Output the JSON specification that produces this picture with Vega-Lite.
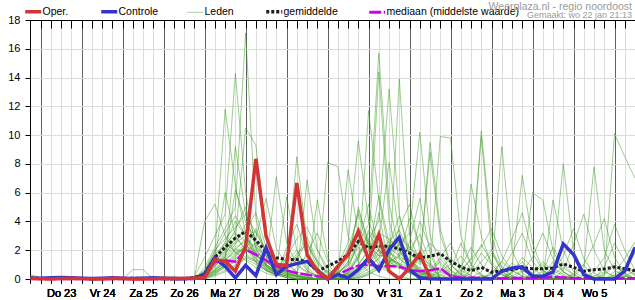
{
"$schema": "https://vega.github.io/schema/vega-lite/v6.json",
"width": 605, "height": 259,
"autosize": {"type": "none"},
"padding": {"left": 30, "top": 20, "right": 0, "bottom": 21},
"background": "white",
"config": {"view": {"stroke": null}, "font": "Liberation Sans"},
"title": {"text": "Weerplaza.nl - regio noordoost", "subtitle": "Gemaakt: wo 22 jan 21:13", "anchor": "end", "orient": "top", "frame": "group", "font": "Liberation Sans", "fontSize": 10.5, "fontWeight": "normal", "color": "#9a9a9a", "subtitleFont": "Liberation Sans", "subtitleFontSize": 9, "subtitleColor": "#9a9a9a", "subtitlePadding": -1, "offset": -14, "dx": -3},
"data": {"values": [
{"k":"e1","t":-6,"v":0.3},{"k":"e1","t":0,"v":0.1},{"k":"e1","t":6,"v":0},{"k":"e1","t":12,"v":0.15},{"k":"e1","t":18,"v":0.1},{"k":"e1","t":24,"v":0},{"k":"e1","t":30,"v":0},{"k":"e1","t":36,"v":0.05},{"k":"e1","t":42,"v":0},{"k":"e1","t":48,"v":0},{"k":"e1","t":54,"v":0},{"k":"e1","t":60,"v":0},{"k":"e1","t":66,"v":0.05},{"k":"e1","t":72,"v":0},{"k":"e1","t":78,"v":0},
{"k":"e2","t":-6,"v":0.2},{"k":"e2","t":0,"v":0},{"k":"e2","t":6,"v":0},{"k":"e2","t":12,"v":0},{"k":"e2","t":18,"v":0},{"k":"e2","t":24,"v":0},{"k":"e2","t":30,"v":0},{"k":"e2","t":36,"v":0},{"k":"e2","t":42,"v":0},{"k":"e2","t":48,"v":0},{"k":"e2","t":54,"v":0.65},{"k":"e2","t":60,"v":0.65},{"k":"e2","t":66,"v":0},{"k":"e2","t":72,"v":0},{"k":"e2","t":78,"v":0},
{"k":"e3","t":66,"v":0},{"k":"e3","t":72,"v":0},{"k":"e3","t":78,"v":0.2},
{"k":"e1","t":84,"v":0},{"k":"e1","t":90,"v":0.2},{"k":"e1","t":96,"v":1.5},{"k":"e1","t":102,"v":3.0},{"k":"e1","t":108,"v":4.5},{"k":"e1","t":114,"v":14.3},{"k":"e1","t":120,"v":6.0},{"k":"e1","t":126,"v":2.1},{"k":"e1","t":132,"v":1.0},{"k":"e1","t":138,"v":0.5},{"k":"e1","t":144,"v":0.8},{"k":"e1","t":150,"v":1.5},{"k":"e1","t":156,"v":0.6},{"k":"e1","t":162,"v":0.2},{"k":"e1","t":168,"v":0},{"k":"e1","t":174,"v":0.3},{"k":"e1","t":180,"v":1.2},{"k":"e1","t":186,"v":2.5},{"k":"e1","t":192,"v":3.8},{"k":"e1","t":198,"v":15.7},{"k":"e1","t":204,"v":5.2},{"k":"e1","t":210,"v":2.0},{"k":"e1","t":216,"v":0.8},{"k":"e1","t":222,"v":0.3},{"k":"e1","t":228,"v":0.5},{"k":"e1","t":234,"v":1.2},{"k":"e1","t":240,"v":0.4},{"k":"e1","t":246,"v":0},{"k":"e1","t":252,"v":0},{"k":"e1","t":258,"v":0.2},{"k":"e1","t":264,"v":0},{"k":"e1","t":270,"v":0},{"k":"e1","t":276,"v":0.5},{"k":"e1","t":282,"v":1.2},{"k":"e1","t":288,"v":0.3},{"k":"e1","t":294,"v":0},{"k":"e1","t":300,"v":0},{"k":"e1","t":306,"v":0.2},{"k":"e1","t":312,"v":0},{"k":"e1","t":318,"v":0},{"k":"e1","t":324,"v":0},{"k":"e1","t":330,"v":0.4},{"k":"e1","t":336,"v":1.1},{"k":"e1","t":342,"v":0.3},{"k":"e1","t":348,"v":0},
{"k":"e2","t":84,"v":0},{"k":"e2","t":90,"v":0},{"k":"e2","t":96,"v":0.8},{"k":"e2","t":102,"v":2.2},{"k":"e2","t":108,"v":3.5},{"k":"e2","t":114,"v":5.0},{"k":"e2","t":120,"v":17.1},{"k":"e2","t":126,"v":4.2},{"k":"e2","t":132,"v":1.5},{"k":"e2","t":138,"v":0.8},{"k":"e2","t":144,"v":0.4},{"k":"e2","t":150,"v":0.2},{"k":"e2","t":156,"v":0},{"k":"e2","t":162,"v":0},{"k":"e2","t":168,"v":0.1},{"k":"e2","t":174,"v":0.6},{"k":"e2","t":180,"v":2.0},{"k":"e2","t":186,"v":4.5},{"k":"e2","t":192,"v":2.2},{"k":"e2","t":198,"v":1.0},{"k":"e2","t":204,"v":0.6},{"k":"e2","t":210,"v":13.9},{"k":"e2","t":216,"v":3.0},{"k":"e2","t":222,"v":1.2},{"k":"e2","t":228,"v":0.6},{"k":"e2","t":234,"v":0.3},{"k":"e2","t":240,"v":0},{"k":"e2","t":246,"v":0},{"k":"e2","t":252,"v":0.1},{"k":"e2","t":258,"v":0.5},{"k":"e2","t":264,"v":1.8},{"k":"e2","t":270,"v":0.6},{"k":"e2","t":276,"v":0},{"k":"e2","t":282,"v":0},{"k":"e2","t":288,"v":0},{"k":"e2","t":294,"v":0.2},{"k":"e2","t":300,"v":0.8},{"k":"e2","t":306,"v":0.3},{"k":"e2","t":312,"v":0},{"k":"e2","t":318,"v":0},{"k":"e2","t":324,"v":0},{"k":"e2","t":330,"v":0},{"k":"e2","t":336,"v":0},{"k":"e2","t":342,"v":0.2},{"k":"e2","t":348,"v":0.6},
{"k":"e3","t":84,"v":0},{"k":"e3","t":90,"v":0},{"k":"e3","t":96,"v":0.3},{"k":"e3","t":102,"v":1.2},{"k":"e3","t":108,"v":2.0},{"k":"e3","t":114,"v":2.8},{"k":"e3","t":120,"v":10.5},{"k":"e3","t":126,"v":9.3},{"k":"e3","t":132,"v":3.0},{"k":"e3","t":138,"v":1.2},{"k":"e3","t":144,"v":0.6},{"k":"e3","t":150,"v":0.3},{"k":"e3","t":156,"v":0.1},{"k":"e3","t":162,"v":0},{"k":"e3","t":168,"v":0},{"k":"e3","t":174,"v":0},{"k":"e3","t":180,"v":0.5},{"k":"e3","t":186,"v":1.5},{"k":"e3","t":192,"v":2.8},{"k":"e3","t":198,"v":4.0},{"k":"e3","t":204,"v":13.2},{"k":"e3","t":210,"v":4.5},{"k":"e3","t":216,"v":1.5},{"k":"e3","t":222,"v":0.6},{"k":"e3","t":228,"v":0.2},{"k":"e3","t":234,"v":0},{"k":"e3","t":240,"v":0},{"k":"e3","t":246,"v":0.3},{"k":"e3","t":252,"v":1.0},{"k":"e3","t":258,"v":2.4},{"k":"e3","t":264,"v":1.2},{"k":"e3","t":270,"v":0.4},{"k":"e3","t":276,"v":0},{"k":"e3","t":282,"v":0},{"k":"e3","t":288,"v":0.3},{"k":"e3","t":294,"v":1.0},{"k":"e3","t":300,"v":0.4},{"k":"e3","t":306,"v":0},{"k":"e3","t":312,"v":0},{"k":"e3","t":318,"v":0},{"k":"e3","t":324,"v":0.2},{"k":"e3","t":330,"v":0.5},{"k":"e3","t":336,"v":0.2},{"k":"e3","t":342,"v":0},{"k":"e3","t":348,"v":0},
{"k":"e4","t":84,"v":0},{"k":"e4","t":90,"v":0.1},{"k":"e4","t":96,"v":4.0},{"k":"e4","t":102,"v":5.2},{"k":"e4","t":108,"v":3.0},{"k":"e4","t":114,"v":1.8},{"k":"e4","t":120,"v":2.5},{"k":"e4","t":126,"v":1.2},{"k":"e4","t":132,"v":0.6},{"k":"e4","t":138,"v":0.3},{"k":"e4","t":144,"v":0.1},{"k":"e4","t":150,"v":0},{"k":"e4","t":156,"v":0},{"k":"e4","t":162,"v":0},{"k":"e4","t":168,"v":0.2},{"k":"e4","t":174,"v":1.0},{"k":"e4","t":180,"v":2.5},{"k":"e4","t":186,"v":9.6},{"k":"e4","t":192,"v":4.0},{"k":"e4","t":198,"v":2.2},{"k":"e4","t":204,"v":1.5},{"k":"e4","t":210,"v":0.8},{"k":"e4","t":216,"v":0.4},{"k":"e4","t":222,"v":0.2},{"k":"e4","t":228,"v":0.6},{"k":"e4","t":234,"v":1.5},{"k":"e4","t":240,"v":2.5},{"k":"e4","t":246,"v":0.8},{"k":"e4","t":252,"v":0.2},{"k":"e4","t":258,"v":0},{"k":"e4","t":264,"v":0},{"k":"e4","t":270,"v":0},{"k":"e4","t":276,"v":0},{"k":"e4","t":282,"v":0},{"k":"e4","t":288,"v":0},{"k":"e4","t":294,"v":0},{"k":"e4","t":300,"v":0},{"k":"e4","t":306,"v":0},{"k":"e4","t":312,"v":0},{"k":"e4","t":318,"v":0},{"k":"e4","t":324,"v":0},{"k":"e4","t":330,"v":0},{"k":"e4","t":336,"v":0.3},{"k":"e4","t":342,"v":0.8},{"k":"e4","t":348,"v":0.2},
{"k":"e5","t":84,"v":0},{"k":"e5","t":90,"v":0},{"k":"e5","t":96,"v":0.5},{"k":"e5","t":102,"v":1.8},{"k":"e5","t":108,"v":11.8},{"k":"e5","t":114,"v":6.5},{"k":"e5","t":120,"v":3.2},{"k":"e5","t":126,"v":1.8},{"k":"e5","t":132,"v":0.9},{"k":"e5","t":138,"v":0.4},{"k":"e5","t":144,"v":0.2},{"k":"e5","t":150,"v":0.8},{"k":"e5","t":156,"v":1.6},{"k":"e5","t":162,"v":0.6},{"k":"e5","t":168,"v":0.2},{"k":"e5","t":174,"v":0},{"k":"e5","t":180,"v":0.2},{"k":"e5","t":186,"v":0.6},{"k":"e5","t":192,"v":1.2},{"k":"e5","t":198,"v":2.0},{"k":"e5","t":204,"v":2.6},{"k":"e5","t":210,"v":3.4},{"k":"e5","t":216,"v":1.8},{"k":"e5","t":222,"v":1.0},{"k":"e5","t":228,"v":9.5},{"k":"e5","t":234,"v":3.5},{"k":"e5","t":240,"v":1.0},{"k":"e5","t":246,"v":0.3},{"k":"e5","t":252,"v":0},{"k":"e5","t":258,"v":0},{"k":"e5","t":264,"v":0},{"k":"e5","t":270,"v":0},{"k":"e5","t":276,"v":0},{"k":"e5","t":282,"v":0},{"k":"e5","t":288,"v":0},{"k":"e5","t":294,"v":0},{"k":"e5","t":300,"v":0.3},{"k":"e5","t":306,"v":0.8},{"k":"e5","t":312,"v":0.3},{"k":"e5","t":318,"v":0},{"k":"e5","t":324,"v":0},{"k":"e5","t":330,"v":0},{"k":"e5","t":336,"v":0},{"k":"e5","t":342,"v":0},{"k":"e5","t":348,"v":0},
{"k":"e6","t":84,"v":0},{"k":"e6","t":90,"v":0},{"k":"e6","t":96,"v":0.2},{"k":"e6","t":102,"v":0.9},{"k":"e6","t":108,"v":1.6},{"k":"e6","t":114,"v":2.4},{"k":"e6","t":120,"v":3.8},{"k":"e6","t":126,"v":2.9},{"k":"e6","t":132,"v":5.6},{"k":"e6","t":138,"v":2.1},{"k":"e6","t":144,"v":1.0},{"k":"e6","t":150,"v":0.5},{"k":"e6","t":156,"v":0.2},{"k":"e6","t":162,"v":0},{"k":"e6","t":168,"v":0},{"k":"e6","t":174,"v":0},{"k":"e6","t":180,"v":0.3},{"k":"e6","t":186,"v":0.8},{"k":"e6","t":192,"v":11.7},{"k":"e6","t":198,"v":5.5},{"k":"e6","t":204,"v":2.0},{"k":"e6","t":210,"v":1.0},{"k":"e6","t":216,"v":0.5},{"k":"e6","t":222,"v":0.2},{"k":"e6","t":228,"v":0},{"k":"e6","t":234,"v":0},{"k":"e6","t":240,"v":0.2},{"k":"e6","t":246,"v":0.6},{"k":"e6","t":252,"v":1.4},{"k":"e6","t":258,"v":9.9},{"k":"e6","t":264,"v":2.0},{"k":"e6","t":270,"v":0.5},{"k":"e6","t":276,"v":0.1},{"k":"e6","t":282,"v":0},{"k":"e6","t":288,"v":0},{"k":"e6","t":294,"v":0},{"k":"e6","t":300,"v":0},{"k":"e6","t":306,"v":0},{"k":"e6","t":312,"v":0},{"k":"e6","t":318,"v":0},{"k":"e6","t":324,"v":0},{"k":"e6","t":330,"v":0},{"k":"e6","t":336,"v":0},{"k":"e6","t":342,"v":0},{"k":"e6","t":348,"v":0},
{"k":"e7","t":84,"v":0},{"k":"e7","t":90,"v":0},{"k":"e7","t":96,"v":0.1},{"k":"e7","t":102,"v":0.6},{"k":"e7","t":108,"v":1.2},{"k":"e7","t":114,"v":9.2},{"k":"e7","t":120,"v":4.5},{"k":"e7","t":126,"v":2.2},{"k":"e7","t":132,"v":1.0},{"k":"e7","t":138,"v":7.1},{"k":"e7","t":144,"v":2.5},{"k":"e7","t":150,"v":1.0},{"k":"e7","t":156,"v":0.4},{"k":"e7","t":162,"v":0.1},{"k":"e7","t":168,"v":0},{"k":"e7","t":174,"v":0},{"k":"e7","t":180,"v":0},{"k":"e7","t":186,"v":0.2},{"k":"e7","t":192,"v":0.5},{"k":"e7","t":198,"v":1.0},{"k":"e7","t":204,"v":1.8},{"k":"e7","t":210,"v":2.4},{"k":"e7","t":216,"v":3.2},{"k":"e7","t":222,"v":10.2},{"k":"e7","t":228,"v":3.0},{"k":"e7","t":234,"v":1.0},{"k":"e7","t":240,"v":0.3},{"k":"e7","t":246,"v":0},{"k":"e7","t":252,"v":0},{"k":"e7","t":258,"v":0},{"k":"e7","t":264,"v":0},{"k":"e7","t":270,"v":0.4},{"k":"e7","t":276,"v":1.1},{"k":"e7","t":282,"v":0.6},{"k":"e7","t":288,"v":0.2},{"k":"e7","t":294,"v":0.5},{"k":"e7","t":300,"v":2.2},{"k":"e7","t":306,"v":1.0},{"k":"e7","t":312,"v":0.3},{"k":"e7","t":318,"v":0},{"k":"e7","t":324,"v":0},{"k":"e7","t":330,"v":0},{"k":"e7","t":336,"v":0.1},{"k":"e7","t":342,"v":0.2},{"k":"e7","t":348,"v":0},
{"k":"e8","t":84,"v":0},{"k":"e8","t":90,"v":0},{"k":"e8","t":96,"v":0.4},{"k":"e8","t":102,"v":1.4},{"k":"e8","t":108,"v":6.0},{"k":"e8","t":114,"v":3.0},{"k":"e8","t":120,"v":2.0},{"k":"e8","t":126,"v":3.5},{"k":"e8","t":132,"v":2.0},{"k":"e8","t":138,"v":1.2},{"k":"e8","t":144,"v":0.8},{"k":"e8","t":150,"v":8.5},{"k":"e8","t":156,"v":2.5},{"k":"e8","t":162,"v":0.8},{"k":"e8","t":168,"v":0.2},{"k":"e8","t":174,"v":0},{"k":"e8","t":180,"v":0},{"k":"e8","t":186,"v":0},{"k":"e8","t":192,"v":0.3},{"k":"e8","t":198,"v":0.8},{"k":"e8","t":204,"v":1.5},{"k":"e8","t":210,"v":1.0},{"k":"e8","t":216,"v":0.4},{"k":"e8","t":222,"v":0.1},{"k":"e8","t":228,"v":0},{"k":"e8","t":234,"v":0},{"k":"e8","t":240,"v":0},{"k":"e8","t":246,"v":0},{"k":"e8","t":252,"v":0},{"k":"e8","t":258,"v":0},{"k":"e8","t":264,"v":0.5},{"k":"e8","t":270,"v":9.2},{"k":"e8","t":276,"v":2.0},{"k":"e8","t":282,"v":0.4},{"k":"e8","t":288,"v":0},{"k":"e8","t":294,"v":0},{"k":"e8","t":300,"v":0},{"k":"e8","t":306,"v":0},{"k":"e8","t":312,"v":0},{"k":"e8","t":318,"v":0},{"k":"e8","t":324,"v":0},{"k":"e8","t":330,"v":0},{"k":"e8","t":336,"v":0},{"k":"e8","t":342,"v":0},{"k":"e8","t":348,"v":0},
{"k":"e9","t":84,"v":0},{"k":"e9","t":90,"v":0},{"k":"e9","t":96,"v":0.2},{"k":"e9","t":102,"v":0.8},{"k":"e9","t":108,"v":1.5},{"k":"e9","t":114,"v":6.2},{"k":"e9","t":120,"v":4.0},{"k":"e9","t":126,"v":2.4},{"k":"e9","t":132,"v":1.2},{"k":"e9","t":138,"v":0.6},{"k":"e9","t":144,"v":5.7},{"k":"e9","t":150,"v":2.0},{"k":"e9","t":156,"v":0.6},{"k":"e9","t":162,"v":0.1},{"k":"e9","t":168,"v":0},{"k":"e9","t":174,"v":0.1},{"k":"e9","t":180,"v":0.4},{"k":"e9","t":186,"v":1.0},{"k":"e9","t":192,"v":2.0},{"k":"e9","t":198,"v":14.4},{"k":"e9","t":204,"v":4.0},{"k":"e9","t":210,"v":1.5},{"k":"e9","t":216,"v":0.6},{"k":"e9","t":222,"v":0.2},{"k":"e9","t":228,"v":0.1},{"k":"e9","t":234,"v":0},{"k":"e9","t":240,"v":0},{"k":"e9","t":246,"v":0},{"k":"e9","t":252,"v":0},{"k":"e9","t":258,"v":0},{"k":"e9","t":264,"v":0},{"k":"e9","t":270,"v":0},{"k":"e9","t":276,"v":0.2},{"k":"e9","t":282,"v":0.6},{"k":"e9","t":288,"v":0.2},{"k":"e9","t":294,"v":0},{"k":"e9","t":300,"v":0},{"k":"e9","t":306,"v":0},{"k":"e9","t":312,"v":0},{"k":"e9","t":318,"v":0},{"k":"e9","t":324,"v":0},{"k":"e9","t":330,"v":0},{"k":"e9","t":336,"v":0},{"k":"e9","t":342,"v":0},{"k":"e9","t":348,"v":0},
{"k":"e10","t":84,"v":0},{"k":"e10","t":90,"v":0},{"k":"e10","t":96,"v":0.6},{"k":"e10","t":102,"v":2.0},{"k":"e10","t":108,"v":2.8},{"k":"e10","t":114,"v":3.6},{"k":"e10","t":120,"v":4.5},{"k":"e10","t":126,"v":3.2},{"k":"e10","t":132,"v":2.0},{"k":"e10","t":138,"v":1.0},{"k":"e10","t":144,"v":0.5},{"k":"e10","t":150,"v":0.2},{"k":"e10","t":156,"v":6.9},{"k":"e10","t":162,"v":2.0},{"k":"e10","t":168,"v":0.5},{"k":"e10","t":174,"v":0.2},{"k":"e10","t":180,"v":0.4},{"k":"e10","t":186,"v":1.6},{"k":"e10","t":192,"v":3.2},{"k":"e10","t":198,"v":2.0},{"k":"e10","t":204,"v":1.2},{"k":"e10","t":210,"v":0.8},{"k":"e10","t":216,"v":0.4},{"k":"e10","t":222,"v":1.5},{"k":"e10","t":228,"v":2.5},{"k":"e10","t":234,"v":1.8},{"k":"e10","t":240,"v":0.6},{"k":"e10","t":246,"v":0.2},{"k":"e10","t":252,"v":0},{"k":"e10","t":258,"v":0},{"k":"e10","t":264,"v":0},{"k":"e10","t":270,"v":0},{"k":"e10","t":276,"v":0},{"k":"e10","t":282,"v":0},{"k":"e10","t":288,"v":6.0},{"k":"e10","t":294,"v":5.5},{"k":"e10","t":300,"v":2.0},{"k":"e10","t":306,"v":0.5},{"k":"e10","t":312,"v":0},{"k":"e10","t":318,"v":0},{"k":"e10","t":324,"v":0},{"k":"e10","t":330,"v":0},{"k":"e10","t":336,"v":0},{"k":"e10","t":342,"v":0},{"k":"e10","t":348,"v":0},
{"k":"e11","t":84,"v":0},{"k":"e11","t":90,"v":0},{"k":"e11","t":96,"v":0},{"k":"e11","t":102,"v":0.4},{"k":"e11","t":108,"v":1.0},{"k":"e11","t":114,"v":1.6},{"k":"e11","t":120,"v":2.2},{"k":"e11","t":126,"v":1.5},{"k":"e11","t":132,"v":0.8},{"k":"e11","t":138,"v":0.4},{"k":"e11","t":144,"v":0.2},{"k":"e11","t":150,"v":0},{"k":"e11","t":156,"v":0},{"k":"e11","t":162,"v":0},{"k":"e11","t":168,"v":8.1},{"k":"e11","t":174,"v":7.8},{"k":"e11","t":180,"v":3.0},{"k":"e11","t":186,"v":1.2},{"k":"e11","t":192,"v":0.5},{"k":"e11","t":198,"v":0.2},{"k":"e11","t":204,"v":0},{"k":"e11","t":210,"v":0},{"k":"e11","t":216,"v":0},{"k":"e11","t":222,"v":0},{"k":"e11","t":228,"v":0.2},{"k":"e11","t":234,"v":0.5},{"k":"e11","t":240,"v":1.0},{"k":"e11","t":246,"v":0.4},{"k":"e11","t":252,"v":0.1},{"k":"e11","t":258,"v":0},{"k":"e11","t":264,"v":0},{"k":"e11","t":270,"v":0},{"k":"e11","t":276,"v":0},{"k":"e11","t":282,"v":0},{"k":"e11","t":288,"v":0},{"k":"e11","t":294,"v":0.2},{"k":"e11","t":300,"v":0.8},{"k":"e11","t":306,"v":8.0},{"k":"e11","t":312,"v":2.0},{"k":"e11","t":318,"v":0.5},{"k":"e11","t":324,"v":0.1},{"k":"e11","t":330,"v":0},{"k":"e11","t":336,"v":0},{"k":"e11","t":342,"v":0},{"k":"e11","t":348,"v":0},
{"k":"e12","t":84,"v":0},{"k":"e12","t":90,"v":0},{"k":"e12","t":96,"v":0.3},{"k":"e12","t":102,"v":1.0},{"k":"e12","t":108,"v":1.8},{"k":"e12","t":114,"v":2.5},{"k":"e12","t":120,"v":3.0},{"k":"e12","t":126,"v":2.0},{"k":"e12","t":132,"v":1.2},{"k":"e12","t":138,"v":0.6},{"k":"e12","t":144,"v":0.3},{"k":"e12","t":150,"v":0.1},{"k":"e12","t":156,"v":0},{"k":"e12","t":162,"v":5.5},{"k":"e12","t":168,"v":1.5},{"k":"e12","t":174,"v":0.4},{"k":"e12","t":180,"v":1.0},{"k":"e12","t":186,"v":5.0},{"k":"e12","t":192,"v":2.4},{"k":"e12","t":198,"v":1.6},{"k":"e12","t":204,"v":1.6},{"k":"e12","t":210,"v":2.4},{"k":"e12","t":216,"v":1.2},{"k":"e12","t":222,"v":0.5},{"k":"e12","t":228,"v":0.2},{"k":"e12","t":234,"v":0},{"k":"e12","t":240,"v":0},{"k":"e12","t":246,"v":0},{"k":"e12","t":252,"v":0},{"k":"e12","t":258,"v":0},{"k":"e12","t":264,"v":0},{"k":"e12","t":270,"v":0},{"k":"e12","t":276,"v":0},{"k":"e12","t":282,"v":0},{"k":"e12","t":288,"v":0},{"k":"e12","t":294,"v":0},{"k":"e12","t":300,"v":0},{"k":"e12","t":306,"v":0},{"k":"e12","t":312,"v":0.2},{"k":"e12","t":318,"v":0.8},{"k":"e12","t":324,"v":7.8},{"k":"e12","t":330,"v":2.0},{"k":"e12","t":336,"v":0.6},{"k":"e12","t":342,"v":0.2},{"k":"e12","t":348,"v":0},
{"k":"e13","t":84,"v":0},{"k":"e13","t":90,"v":0},{"k":"e13","t":96,"v":0.1},{"k":"e13","t":102,"v":0.5},{"k":"e13","t":108,"v":1.0},{"k":"e13","t":114,"v":1.4},{"k":"e13","t":120,"v":2.0},{"k":"e13","t":126,"v":1.6},{"k":"e13","t":132,"v":1.0},{"k":"e13","t":138,"v":0.5},{"k":"e13","t":144,"v":1.5},{"k":"e13","t":150,"v":2.8},{"k":"e13","t":156,"v":3.6},{"k":"e13","t":162,"v":2.0},{"k":"e13","t":168,"v":0.8},{"k":"e13","t":174,"v":0},{"k":"e13","t":180,"v":0.2},{"k":"e13","t":186,"v":0.6},{"k":"e13","t":192,"v":1.2},{"k":"e13","t":198,"v":1.8},{"k":"e13","t":204,"v":2.2},{"k":"e13","t":210,"v":1.6},{"k":"e13","t":216,"v":4.2},{"k":"e13","t":222,"v":2.4},{"k":"e13","t":228,"v":1.0},{"k":"e13","t":234,"v":0},{"k":"e13","t":240,"v":0},{"k":"e13","t":246,"v":0},{"k":"e13","t":252,"v":0},{"k":"e13","t":258,"v":0},{"k":"e13","t":264,"v":0},{"k":"e13","t":270,"v":0},{"k":"e13","t":276,"v":0},{"k":"e13","t":282,"v":0},{"k":"e13","t":288,"v":0},{"k":"e13","t":294,"v":0},{"k":"e13","t":300,"v":0},{"k":"e13","t":306,"v":0},{"k":"e13","t":312,"v":0},{"k":"e13","t":318,"v":0},{"k":"e13","t":324,"v":0},{"k":"e13","t":330,"v":0.2},{"k":"e13","t":336,"v":10.1},{"k":"e13","t":342,"v":8.5},{"k":"e13","t":348,"v":7.0},
{"k":"e14","t":84,"v":0},{"k":"e14","t":90,"v":0},{"k":"e14","t":96,"v":0.2},{"k":"e14","t":102,"v":1.1},{"k":"e14","t":108,"v":2.2},{"k":"e14","t":114,"v":3.4},{"k":"e14","t":120,"v":5.0},{"k":"e14","t":126,"v":2.6},{"k":"e14","t":132,"v":1.3},{"k":"e14","t":138,"v":0.7},{"k":"e14","t":144,"v":1.1},{"k":"e14","t":150,"v":0.5},{"k":"e14","t":156,"v":1.8},{"k":"e14","t":162,"v":3.2},{"k":"e14","t":168,"v":1.2},{"k":"e14","t":174,"v":0},{"k":"e14","t":180,"v":0.2},{"k":"e14","t":186,"v":0.8},{"k":"e14","t":192,"v":1.6},{"k":"e14","t":198,"v":2.6},{"k":"e14","t":204,"v":8.1},{"k":"e14","t":210,"v":3.0},{"k":"e14","t":216,"v":1.2},{"k":"e14","t":222,"v":0.4},{"k":"e14","t":228,"v":0.1},{"k":"e14","t":234,"v":0},{"k":"e14","t":240,"v":0},{"k":"e14","t":246,"v":0},{"k":"e14","t":252,"v":0},{"k":"e14","t":258,"v":10.3},{"k":"e14","t":264,"v":3.0},{"k":"e14","t":270,"v":0.8},{"k":"e14","t":276,"v":0.2},{"k":"e14","t":282,"v":0},{"k":"e14","t":288,"v":0},{"k":"e14","t":294,"v":0},{"k":"e14","t":300,"v":0},{"k":"e14","t":306,"v":0},{"k":"e14","t":312,"v":0},{"k":"e14","t":318,"v":0},{"k":"e14","t":324,"v":0},{"k":"e14","t":330,"v":0},{"k":"e14","t":336,"v":0},{"k":"e14","t":342,"v":0},{"k":"e14","t":348,"v":0},
{"k":"e15","t":84,"v":0},{"k":"e15","t":90,"v":0},{"k":"e15","t":96,"v":0.5},{"k":"e15","t":102,"v":1.6},{"k":"e15","t":108,"v":2.4},{"k":"e15","t":114,"v":3.2},{"k":"e15","t":120,"v":2.6},{"k":"e15","t":126,"v":1.8},{"k":"e15","t":132,"v":1.0},{"k":"e15","t":138,"v":0.5},{"k":"e15","t":144,"v":0.3},{"k":"e15","t":150,"v":0.2},{"k":"e15","t":156,"v":0.1},{"k":"e15","t":162,"v":0},{"k":"e15","t":168,"v":0},{"k":"e15","t":174,"v":0.3},{"k":"e15","t":180,"v":7.6},{"k":"e15","t":186,"v":3.0},{"k":"e15","t":192,"v":1.5},{"k":"e15","t":198,"v":0.8},{"k":"e15","t":204,"v":0.5},{"k":"e15","t":210,"v":0.2},{"k":"e15","t":216,"v":0},{"k":"e15","t":222,"v":0},{"k":"e15","t":228,"v":0},{"k":"e15","t":234,"v":0},{"k":"e15","t":240,"v":0},{"k":"e15","t":246,"v":0},{"k":"e15","t":252,"v":0},{"k":"e15","t":258,"v":0},{"k":"e15","t":264,"v":0},{"k":"e15","t":270,"v":0},{"k":"e15","t":276,"v":0},{"k":"e15","t":282,"v":0},{"k":"e15","t":288,"v":0.4},{"k":"e15","t":294,"v":1.2},{"k":"e15","t":300,"v":0.6},{"k":"e15","t":306,"v":0.2},{"k":"e15","t":312,"v":0},{"k":"e15","t":318,"v":0},{"k":"e15","t":324,"v":0},{"k":"e15","t":330,"v":0.3},{"k":"e15","t":336,"v":0.9},{"k":"e15","t":342,"v":0.4},{"k":"e15","t":348,"v":0},
{"k":"e16","t":84,"v":0},{"k":"e16","t":90,"v":0},{"k":"e16","t":96,"v":0.2},{"k":"e16","t":102,"v":0.7},{"k":"e16","t":108,"v":1.3},{"k":"e16","t":114,"v":2.0},{"k":"e16","t":120,"v":2.8},{"k":"e16","t":126,"v":2.2},{"k":"e16","t":132,"v":1.6},{"k":"e16","t":138,"v":1.0},{"k":"e16","t":144,"v":0.6},{"k":"e16","t":150,"v":0.3},{"k":"e16","t":156,"v":0.1},{"k":"e16","t":162,"v":0},{"k":"e16","t":168,"v":0},{"k":"e16","t":174,"v":0},{"k":"e16","t":180,"v":0},{"k":"e16","t":186,"v":0.4},{"k":"e16","t":192,"v":0.9},{"k":"e16","t":198,"v":1.4},{"k":"e16","t":204,"v":2.0},{"k":"e16","t":210,"v":2.6},{"k":"e16","t":216,"v":1.8},{"k":"e16","t":222,"v":1.2},{"k":"e16","t":228,"v":8.8},{"k":"e16","t":234,"v":3.0},{"k":"e16","t":240,"v":1.0},{"k":"e16","t":246,"v":0.3},{"k":"e16","t":252,"v":0},{"k":"e16","t":258,"v":0},{"k":"e16","t":264,"v":0},{"k":"e16","t":270,"v":0},{"k":"e16","t":276,"v":0.5},{"k":"e16","t":282,"v":0.9},{"k":"e16","t":288,"v":0.4},{"k":"e16","t":294,"v":0},{"k":"e16","t":300,"v":0},{"k":"e16","t":306,"v":0},{"k":"e16","t":312,"v":0},{"k":"e16","t":318,"v":0},{"k":"e16","t":324,"v":0},{"k":"e16","t":330,"v":0},{"k":"e16","t":336,"v":0.5},{"k":"e16","t":342,"v":1.4},{"k":"e16","t":348,"v":2.6},
{"k":"e17","t":84,"v":0},{"k":"e17","t":90,"v":0},{"k":"e17","t":96,"v":0},{"k":"e17","t":102,"v":0.3},{"k":"e17","t":108,"v":0.9},{"k":"e17","t":114,"v":1.5},{"k":"e17","t":120,"v":2.4},{"k":"e17","t":126,"v":1.7},{"k":"e17","t":132,"v":1.0},{"k":"e17","t":138,"v":0.6},{"k":"e17","t":144,"v":0.3},{"k":"e17","t":150,"v":0.2},{"k":"e17","t":156,"v":0.1},{"k":"e17","t":162,"v":0},{"k":"e17","t":168,"v":0},{"k":"e17","t":174,"v":0},{"k":"e17","t":180,"v":0.1},{"k":"e17","t":186,"v":0.3},{"k":"e17","t":192,"v":0.7},{"k":"e17","t":198,"v":1.5},{"k":"e17","t":204,"v":2.4},{"k":"e17","t":210,"v":3.0},{"k":"e17","t":216,"v":2.2},{"k":"e17","t":222,"v":1.4},{"k":"e17","t":228,"v":0.8},{"k":"e17","t":234,"v":9.9},{"k":"e17","t":240,"v":9.8},{"k":"e17","t":246,"v":3.0},{"k":"e17","t":252,"v":1.0},{"k":"e17","t":258,"v":0.3},{"k":"e17","t":264,"v":0},{"k":"e17","t":270,"v":0},{"k":"e17","t":276,"v":0},{"k":"e17","t":282,"v":0},{"k":"e17","t":288,"v":0},{"k":"e17","t":294,"v":0},{"k":"e17","t":300,"v":0},{"k":"e17","t":306,"v":0},{"k":"e17","t":312,"v":0},{"k":"e17","t":318,"v":0},{"k":"e17","t":324,"v":0},{"k":"e17","t":330,"v":0},{"k":"e17","t":336,"v":0},{"k":"e17","t":342,"v":0},{"k":"e17","t":348,"v":0},
{"k":"e18","t":84,"v":0},{"k":"e18","t":90,"v":0},{"k":"e18","t":96,"v":0.3},{"k":"e18","t":102,"v":1.3},{"k":"e18","t":108,"v":2.6},{"k":"e18","t":114,"v":4.0},{"k":"e18","t":120,"v":3.0},{"k":"e18","t":126,"v":1.4},{"k":"e18","t":132,"v":0.7},{"k":"e18","t":138,"v":0.3},{"k":"e18","t":144,"v":0.1},{"k":"e18","t":150,"v":0},{"k":"e18","t":156,"v":0},{"k":"e18","t":162,"v":0},{"k":"e18","t":168,"v":0},{"k":"e18","t":174,"v":0},{"k":"e18","t":180,"v":0.3},{"k":"e18","t":186,"v":1.0},{"k":"e18","t":192,"v":2.0},{"k":"e18","t":198,"v":3.2},{"k":"e18","t":204,"v":2.8},{"k":"e18","t":210,"v":2.0},{"k":"e18","t":216,"v":1.2},{"k":"e18","t":222,"v":0.6},{"k":"e18","t":228,"v":0.3},{"k":"e18","t":234,"v":0.1},{"k":"e18","t":240,"v":0},{"k":"e18","t":246,"v":0},{"k":"e18","t":252,"v":0},{"k":"e18","t":258,"v":0},{"k":"e18","t":264,"v":0},{"k":"e18","t":270,"v":0},{"k":"e18","t":276,"v":0.8},{"k":"e18","t":282,"v":7.2},{"k":"e18","t":288,"v":2.5},{"k":"e18","t":294,"v":0.6},{"k":"e18","t":300,"v":0.1},{"k":"e18","t":306,"v":0},{"k":"e18","t":312,"v":0},{"k":"e18","t":318,"v":0},{"k":"e18","t":324,"v":0},{"k":"e18","t":330,"v":0},{"k":"e18","t":336,"v":0},{"k":"e18","t":342,"v":0},{"k":"e18","t":348,"v":0},
{"k":"e19","t":84,"v":0},{"k":"e19","t":90,"v":0},{"k":"e19","t":96,"v":0.1},{"k":"e19","t":102,"v":0.6},{"k":"e19","t":108,"v":1.3},{"k":"e19","t":114,"v":2.1},{"k":"e19","t":120,"v":1.8},{"k":"e19","t":126,"v":1.1},{"k":"e19","t":132,"v":0.6},{"k":"e19","t":138,"v":0.2},{"k":"e19","t":144,"v":0.6},{"k":"e19","t":150,"v":1.8},{"k":"e19","t":156,"v":2.4},{"k":"e19","t":162,"v":1.2},{"k":"e19","t":168,"v":0.4},{"k":"e19","t":174,"v":0.4},{"k":"e19","t":180,"v":1.5},{"k":"e19","t":186,"v":3.6},{"k":"e19","t":192,"v":2.4},{"k":"e19","t":198,"v":1.6},{"k":"e19","t":204,"v":1.8},{"k":"e19","t":210,"v":1.4},{"k":"e19","t":216,"v":0.9},{"k":"e19","t":222,"v":0.5},{"k":"e19","t":228,"v":0.2},{"k":"e19","t":234,"v":0},{"k":"e19","t":240,"v":0},{"k":"e19","t":246,"v":0.5},{"k":"e19","t":252,"v":1.4},{"k":"e19","t":258,"v":2.2},{"k":"e19","t":264,"v":3.5},{"k":"e19","t":270,"v":1.6},{"k":"e19","t":276,"v":0.6},{"k":"e19","t":282,"v":0.2},{"k":"e19","t":288,"v":0},{"k":"e19","t":294,"v":0},{"k":"e19","t":300,"v":0},{"k":"e19","t":306,"v":0},{"k":"e19","t":312,"v":0.4},{"k":"e19","t":318,"v":1.0},{"k":"e19","t":324,"v":2.4},{"k":"e19","t":330,"v":4.2},{"k":"e19","t":336,"v":1.5},{"k":"e19","t":342,"v":0.4},{"k":"e19","t":348,"v":0},
{"k":"e20","t":84,"v":0},{"k":"e20","t":90,"v":0},{"k":"e20","t":96,"v":0.4},{"k":"e20","t":102,"v":1.2},{"k":"e20","t":108,"v":1.9},{"k":"e20","t":114,"v":2.6},{"k":"e20","t":120,"v":3.4},{"k":"e20","t":126,"v":4.6},{"k":"e20","t":132,"v":2.2},{"k":"e20","t":138,"v":1.1},{"k":"e20","t":144,"v":0.5},{"k":"e20","t":150,"v":1.4},{"k":"e20","t":156,"v":2.6},{"k":"e20","t":162,"v":1.1},{"k":"e20","t":168,"v":0.3},{"k":"e20","t":174,"v":0},{"k":"e20","t":180,"v":0},{"k":"e20","t":186,"v":0.1},{"k":"e20","t":192,"v":0.4},{"k":"e20","t":198,"v":0.9},{"k":"e20","t":204,"v":1.3},{"k":"e20","t":210,"v":1.0},{"k":"e20","t":216,"v":0.6},{"k":"e20","t":222,"v":0.3},{"k":"e20","t":228,"v":0.1},{"k":"e20","t":234,"v":0},{"k":"e20","t":240,"v":0},{"k":"e20","t":246,"v":0.8},{"k":"e20","t":252,"v":2.2},{"k":"e20","t":258,"v":1.0},{"k":"e20","t":264,"v":0.3},{"k":"e20","t":270,"v":0},{"k":"e20","t":276,"v":0},{"k":"e20","t":282,"v":0},{"k":"e20","t":288,"v":0},{"k":"e20","t":294,"v":0.3},{"k":"e20","t":300,"v":1.2},{"k":"e20","t":306,"v":0.5},{"k":"e20","t":312,"v":0.1},{"k":"e20","t":318,"v":0},{"k":"e20","t":324,"v":0},{"k":"e20","t":330,"v":0},{"k":"e20","t":336,"v":0},{"k":"e20","t":342,"v":0},{"k":"e20","t":348,"v":0},
{"k":"e21","t":84,"v":0},{"k":"e21","t":90,"v":0},{"k":"e21","t":96,"v":0.2},{"k":"e21","t":102,"v":0.9},{"k":"e21","t":108,"v":1.7},{"k":"e21","t":114,"v":2.9},{"k":"e21","t":120,"v":2.1},{"k":"e21","t":126,"v":1.2},{"k":"e21","t":132,"v":0.6},{"k":"e21","t":138,"v":0.3},{"k":"e21","t":144,"v":0.1},{"k":"e21","t":150,"v":0},{"k":"e21","t":156,"v":0},{"k":"e21","t":162,"v":0},{"k":"e21","t":168,"v":0},{"k":"e21","t":174,"v":0},{"k":"e21","t":180,"v":0.4},{"k":"e21","t":186,"v":1.4},{"k":"e21","t":192,"v":3.4},{"k":"e21","t":198,"v":2.5},{"k":"e21","t":204,"v":1.6},{"k":"e21","t":210,"v":0.9},{"k":"e21","t":216,"v":0.5},{"k":"e21","t":222,"v":0.2},{"k":"e21","t":228,"v":0},{"k":"e21","t":234,"v":0},{"k":"e21","t":240,"v":0},{"k":"e21","t":246,"v":0},{"k":"e21","t":252,"v":6.6},{"k":"e21","t":258,"v":3.0},{"k":"e21","t":264,"v":1.0},{"k":"e21","t":270,"v":0.3},{"k":"e21","t":276,"v":0},{"k":"e21","t":282,"v":0},{"k":"e21","t":288,"v":0},{"k":"e21","t":294,"v":0},{"k":"e21","t":300,"v":0},{"k":"e21","t":306,"v":0},{"k":"e21","t":312,"v":0},{"k":"e21","t":318,"v":0},{"k":"e21","t":324,"v":0},{"k":"e21","t":330,"v":0},{"k":"e21","t":336,"v":0},{"k":"e21","t":342,"v":0},{"k":"e21","t":348,"v":0},
{"k":"e22","t":84,"v":0},{"k":"e22","t":90,"v":0},{"k":"e22","t":96,"v":0},{"k":"e22","t":102,"v":0.2},{"k":"e22","t":108,"v":0.5},{"k":"e22","t":114,"v":0.9},{"k":"e22","t":120,"v":1.5},{"k":"e22","t":126,"v":1.2},{"k":"e22","t":132,"v":0.8},{"k":"e22","t":138,"v":0.4},{"k":"e22","t":144,"v":0.2},{"k":"e22","t":150,"v":0.1},{"k":"e22","t":156,"v":0},{"k":"e22","t":162,"v":0},{"k":"e22","t":168,"v":0},{"k":"e22","t":174,"v":0},{"k":"e22","t":180,"v":0.6},{"k":"e22","t":186,"v":2.8},{"k":"e22","t":192,"v":1.4},{"k":"e22","t":198,"v":4.6},{"k":"e22","t":204,"v":0.9},{"k":"e22","t":210,"v":1.6},{"k":"e22","t":216,"v":2.2},{"k":"e22","t":222,"v":1.6},{"k":"e22","t":228,"v":1.0},{"k":"e22","t":234,"v":0.5},{"k":"e22","t":240,"v":0.2},{"k":"e22","t":246,"v":0},{"k":"e22","t":252,"v":0.6},{"k":"e22","t":258,"v":1.8},{"k":"e22","t":264,"v":1.0},{"k":"e22","t":270,"v":0.3},{"k":"e22","t":276,"v":0},{"k":"e22","t":282,"v":0},{"k":"e22","t":288,"v":0},{"k":"e22","t":294,"v":0},{"k":"e22","t":300,"v":5.5},{"k":"e22","t":306,"v":2.0},{"k":"e22","t":312,"v":0.5},{"k":"e22","t":318,"v":0.1},{"k":"e22","t":324,"v":0},{"k":"e22","t":330,"v":0},{"k":"e22","t":336,"v":0},{"k":"e22","t":342,"v":0},{"k":"e22","t":348,"v":0},
{"k":"e23","t":84,"v":0},{"k":"e23","t":90,"v":0},{"k":"e23","t":96,"v":0.3},{"k":"e23","t":102,"v":1.0},{"k":"e23","t":108,"v":1.5},{"k":"e23","t":114,"v":2.2},{"k":"e23","t":120,"v":2.6},{"k":"e23","t":126,"v":3.3},{"k":"e23","t":132,"v":1.8},{"k":"e23","t":138,"v":0.9},{"k":"e23","t":144,"v":0.4},{"k":"e23","t":150,"v":0.2},{"k":"e23","t":156,"v":0},{"k":"e23","t":162,"v":0},{"k":"e23","t":168,"v":0},{"k":"e23","t":174,"v":0},{"k":"e23","t":180,"v":0.2},{"k":"e23","t":186,"v":0.7},{"k":"e23","t":192,"v":1.4},{"k":"e23","t":198,"v":2.0},{"k":"e23","t":204,"v":1.5},{"k":"e23","t":210,"v":3.6},{"k":"e23","t":216,"v":5.2},{"k":"e23","t":222,"v":2.0},{"k":"e23","t":228,"v":0.8},{"k":"e23","t":234,"v":0.6},{"k":"e23","t":240,"v":1.5},{"k":"e23","t":246,"v":0.6},{"k":"e23","t":252,"v":0.2},{"k":"e23","t":258,"v":0},{"k":"e23","t":264,"v":0},{"k":"e23","t":270,"v":0},{"k":"e23","t":276,"v":0.4},{"k":"e23","t":282,"v":1.5},{"k":"e23","t":288,"v":0.8},{"k":"e23","t":294,"v":0.2},{"k":"e23","t":300,"v":0},{"k":"e23","t":306,"v":0},{"k":"e23","t":312,"v":0},{"k":"e23","t":318,"v":0},{"k":"e23","t":324,"v":0},{"k":"e23","t":330,"v":0},{"k":"e23","t":336,"v":0},{"k":"e23","t":342,"v":0},{"k":"e23","t":348,"v":0},
{"k":"e24","t":84,"v":0},{"k":"e24","t":90,"v":0},{"k":"e24","t":96,"v":0.1},{"k":"e24","t":102,"v":0.4},{"k":"e24","t":108,"v":0.8},{"k":"e24","t":114,"v":1.2},{"k":"e24","t":120,"v":1.6},{"k":"e24","t":126,"v":1.3},{"k":"e24","t":132,"v":0.9},{"k":"e24","t":138,"v":0.5},{"k":"e24","t":144,"v":1.8},{"k":"e24","t":150,"v":1.0},{"k":"e24","t":156,"v":0.5},{"k":"e24","t":162,"v":0.2},{"k":"e24","t":168,"v":0.6},{"k":"e24","t":174,"v":0.4},{"k":"e24","t":180,"v":1.0},{"k":"e24","t":186,"v":2.2},{"k":"e24","t":192,"v":1.6},{"k":"e24","t":198,"v":5.8},{"k":"e24","t":204,"v":2.5},{"k":"e24","t":210,"v":2.0},{"k":"e24","t":216,"v":1.3},{"k":"e24","t":222,"v":0.7},{"k":"e24","t":228,"v":0.3},{"k":"e24","t":234,"v":0.1},{"k":"e24","t":240,"v":0},{"k":"e24","t":246,"v":0},{"k":"e24","t":252,"v":0},{"k":"e24","t":258,"v":0},{"k":"e24","t":264,"v":0.4},{"k":"e24","t":270,"v":1.2},{"k":"e24","t":276,"v":0.6},{"k":"e24","t":282,"v":0.2},{"k":"e24","t":288,"v":0},{"k":"e24","t":294,"v":0},{"k":"e24","t":300,"v":0},{"k":"e24","t":306,"v":0},{"k":"e24","t":312,"v":0.3},{"k":"e24","t":318,"v":1.0},{"k":"e24","t":324,"v":0},{"k":"e24","t":330,"v":0},{"k":"e24","t":336,"v":0.2},{"k":"e24","t":342,"v":0.7},{"k":"e24","t":348,"v":0.3},
{"k":"e25","t":84,"v":0},{"k":"e25","t":90,"v":0},{"k":"e25","t":96,"v":0.5},{"k":"e25","t":102,"v":1.7},{"k":"e25","t":108,"v":2.5},{"k":"e25","t":114,"v":1.9},{"k":"e25","t":120,"v":1.3},{"k":"e25","t":126,"v":0.8},{"k":"e25","t":132,"v":0.4},{"k":"e25","t":138,"v":0.2},{"k":"e25","t":144,"v":2.2},{"k":"e25","t":150,"v":3.8},{"k":"e25","t":156,"v":1.6},{"k":"e25","t":162,"v":0.5},{"k":"e25","t":168,"v":0.2},{"k":"e25","t":174,"v":0},{"k":"e25","t":180,"v":0.5},{"k":"e25","t":186,"v":1.8},{"k":"e25","t":192,"v":2.6},{"k":"e25","t":198,"v":1.9},{"k":"e25","t":204,"v":1.2},{"k":"e25","t":210,"v":0.7},{"k":"e25","t":216,"v":2.6},{"k":"e25","t":222,"v":5.6},{"k":"e25","t":228,"v":1.8},{"k":"e25","t":234,"v":0},{"k":"e25","t":240,"v":0},{"k":"e25","t":246,"v":0},{"k":"e25","t":252,"v":0},{"k":"e25","t":258,"v":0},{"k":"e25","t":264,"v":0.3},{"k":"e25","t":270,"v":1.2},{"k":"e25","t":276,"v":2.8},{"k":"e25","t":282,"v":4.6},{"k":"e25","t":288,"v":1.8},{"k":"e25","t":294,"v":0.6},{"k":"e25","t":300,"v":0.2},{"k":"e25","t":306,"v":0},{"k":"e25","t":312,"v":0},{"k":"e25","t":318,"v":0},{"k":"e25","t":324,"v":0},{"k":"e25","t":330,"v":0.8},{"k":"e25","t":336,"v":2.5},{"k":"e25","t":342,"v":1.2},{"k":"e25","t":348,"v":0.3},
{"k":"e26","t":84,"v":0},{"k":"e26","t":90,"v":0},{"k":"e26","t":96,"v":0.2},{"k":"e26","t":102,"v":0.5},{"k":"e26","t":108,"v":0.9},{"k":"e26","t":114,"v":1.3},{"k":"e26","t":120,"v":1.9},{"k":"e26","t":126,"v":2.5},{"k":"e26","t":132,"v":1.6},{"k":"e26","t":138,"v":0.9},{"k":"e26","t":144,"v":0.5},{"k":"e26","t":150,"v":0.3},{"k":"e26","t":156,"v":0.1},{"k":"e26","t":162,"v":0},{"k":"e26","t":168,"v":0},{"k":"e26","t":174,"v":0.3},{"k":"e26","t":180,"v":1.2},{"k":"e26","t":186,"v":4.8},{"k":"e26","t":192,"v":2.6},{"k":"e26","t":198,"v":1.2},{"k":"e26","t":204,"v":1.1},{"k":"e26","t":210,"v":1.8},{"k":"e26","t":216,"v":1.3},{"k":"e26","t":222,"v":0.8},{"k":"e26","t":228,"v":0.4},{"k":"e26","t":234,"v":0.2},{"k":"e26","t":240,"v":0.8},{"k":"e26","t":246,"v":1.6},{"k":"e26","t":252,"v":0.7},{"k":"e26","t":258,"v":0.2},{"k":"e26","t":264,"v":0},{"k":"e26","t":270,"v":0},{"k":"e26","t":276,"v":0},{"k":"e26","t":282,"v":0.5},{"k":"e26","t":288,"v":1.5},{"k":"e26","t":294,"v":3.2},{"k":"e26","t":300,"v":1.4},{"k":"e26","t":306,"v":0.5},{"k":"e26","t":312,"v":0.1},{"k":"e26","t":318,"v":0},{"k":"e26","t":324,"v":0},{"k":"e26","t":330,"v":0},{"k":"e26","t":336,"v":0},{"k":"e26","t":342,"v":0.6},{"k":"e26","t":348,"v":1.8},
{"k":"e27","t":84,"v":0},{"k":"e27","t":90,"v":0},{"k":"e27","t":96,"v":0.4},{"k":"e27","t":102,"v":1.1},{"k":"e27","t":108,"v":1.4},{"k":"e27","t":114,"v":1.8},{"k":"e27","t":120,"v":2.2},{"k":"e27","t":126,"v":1.4},{"k":"e27","t":132,"v":0.7},{"k":"e27","t":138,"v":0.4},{"k":"e27","t":144,"v":0.2},{"k":"e27","t":150,"v":0},{"k":"e27","t":156,"v":0},{"k":"e27","t":162,"v":0},{"k":"e27","t":168,"v":0},{"k":"e27","t":174,"v":0},{"k":"e27","t":180,"v":0.1},{"k":"e27","t":186,"v":0.5},{"k":"e27","t":192,"v":1.0},{"k":"e27","t":198,"v":1.7},{"k":"e27","t":204,"v":2.3},{"k":"e27","t":210,"v":4.4},{"k":"e27","t":216,"v":2.0},{"k":"e27","t":222,"v":3.1},{"k":"e27","t":228,"v":1.2},{"k":"e27","t":234,"v":0},{"k":"e27","t":240,"v":0},{"k":"e27","t":246,"v":0},{"k":"e27","t":252,"v":0.4},{"k":"e27","t":258,"v":1.2},{"k":"e27","t":264,"v":2.0},{"k":"e27","t":270,"v":0.8},{"k":"e27","t":276,"v":0.2},{"k":"e27","t":282,"v":0},{"k":"e27","t":288,"v":0},{"k":"e27","t":294,"v":0},{"k":"e27","t":300,"v":0},{"k":"e27","t":306,"v":0.6},{"k":"e27","t":312,"v":2.4},{"k":"e27","t":318,"v":4.5},{"k":"e27","t":324,"v":2.0},{"k":"e27","t":330,"v":0.6},{"k":"e27","t":336,"v":0.1},{"k":"e27","t":342,"v":0},{"k":"e27","t":348,"v":0},
{"k":"e28","t":84,"v":0},{"k":"e28","t":90,"v":0},{"k":"e28","t":96,"v":0.1},{"k":"e28","t":102,"v":0.3},{"k":"e28","t":108,"v":0.6},{"k":"e28","t":114,"v":1.0},{"k":"e28","t":120,"v":1.4},{"k":"e28","t":126,"v":1.0},{"k":"e28","t":132,"v":0.6},{"k":"e28","t":138,"v":0.3},{"k":"e28","t":144,"v":0.8},{"k":"e28","t":150,"v":1.6},{"k":"e28","t":156,"v":2.9},{"k":"e28","t":162,"v":1.3},{"k":"e28","t":168,"v":0.4},{"k":"e28","t":174,"v":0.2},{"k":"e28","t":180,"v":0.9},{"k":"e28","t":186,"v":2.4},{"k":"e28","t":192,"v":5.2},{"k":"e28","t":198,"v":2.0},{"k":"e28","t":204,"v":1.4},{"k":"e28","t":210,"v":1.1},{"k":"e28","t":216,"v":0.7},{"k":"e28","t":222,"v":0.4},{"k":"e28","t":228,"v":0.2},{"k":"e28","t":234,"v":0.8},{"k":"e28","t":240,"v":0.3},{"k":"e28","t":246,"v":0},{"k":"e28","t":252,"v":0},{"k":"e28","t":258,"v":0},{"k":"e28","t":264,"v":0},{"k":"e28","t":270,"v":0.6},{"k":"e28","t":276,"v":1.8},{"k":"e28","t":282,"v":3.2},{"k":"e28","t":288,"v":1.2},{"k":"e28","t":294,"v":0.4},{"k":"e28","t":300,"v":0},{"k":"e28","t":306,"v":0},{"k":"e28","t":312,"v":0},{"k":"e28","t":318,"v":0},{"k":"e28","t":324,"v":0},{"k":"e28","t":330,"v":0},{"k":"e28","t":336,"v":0},{"k":"e28","t":342,"v":0},{"k":"e28","t":348,"v":0},
{"k":"e29","t":84,"v":0},{"k":"e29","t":90,"v":0.1},{"k":"e29","t":96,"v":0.6},{"k":"e29","t":102,"v":1.9},{"k":"e29","t":108,"v":3.2},{"k":"e29","t":114,"v":4.4},{"k":"e29","t":120,"v":3.0},{"k":"e29","t":126,"v":1.7},{"k":"e29","t":132,"v":0.9},{"k":"e29","t":138,"v":0.4},{"k":"e29","t":144,"v":1.2},{"k":"e29","t":150,"v":2.0},{"k":"e29","t":156,"v":0.8},{"k":"e29","t":162,"v":0.2},{"k":"e29","t":168,"v":0},{"k":"e29","t":174,"v":0},{"k":"e29","t":180,"v":0},{"k":"e29","t":186,"v":0.1},{"k":"e29","t":192,"v":0.3},{"k":"e29","t":198,"v":0.7},{"k":"e29","t":204,"v":1.0},{"k":"e29","t":210,"v":2.6},{"k":"e29","t":216,"v":1.3},{"k":"e29","t":222,"v":4.0},{"k":"e29","t":228,"v":2.2},{"k":"e29","t":234,"v":0},{"k":"e29","t":240,"v":0.6},{"k":"e29","t":246,"v":2.5},{"k":"e29","t":252,"v":1.0},{"k":"e29","t":258,"v":0.3},{"k":"e29","t":264,"v":0},{"k":"e29","t":270,"v":0},{"k":"e29","t":276,"v":0},{"k":"e29","t":282,"v":0},{"k":"e29","t":288,"v":0},{"k":"e29","t":294,"v":0},{"k":"e29","t":300,"v":0.5},{"k":"e29","t":306,"v":1.6},{"k":"e29","t":312,"v":3.5},{"k":"e29","t":318,"v":1.4},{"k":"e29","t":324,"v":0.4},{"k":"e29","t":330,"v":0},{"k":"e29","t":336,"v":0},{"k":"e29","t":342,"v":0},{"k":"e29","t":348,"v":0},
{"k":"e30","t":84,"v":0},{"k":"e30","t":90,"v":0},{"k":"e30","t":96,"v":0.2},{"k":"e30","t":102,"v":0.6},{"k":"e30","t":108,"v":1.1},{"k":"e30","t":114,"v":1.7},{"k":"e30","t":120,"v":2.3},{"k":"e30","t":126,"v":1.9},{"k":"e30","t":132,"v":1.2},{"k":"e30","t":138,"v":0.7},{"k":"e30","t":144,"v":0.4},{"k":"e30","t":150,"v":0.2},{"k":"e30","t":156,"v":0.1},{"k":"e30","t":162,"v":0},{"k":"e30","t":168,"v":0},{"k":"e30","t":174,"v":0.5},{"k":"e30","t":180,"v":2.2},{"k":"e30","t":186,"v":3.4},{"k":"e30","t":192,"v":1.5},{"k":"e30","t":198,"v":3.0},{"k":"e30","t":204,"v":1.2},{"k":"e30","t":210,"v":1.6},{"k":"e30","t":216,"v":1.1},{"k":"e30","t":222,"v":0.6},{"k":"e30","t":228,"v":0.3},{"k":"e30","t":234,"v":1.4},{"k":"e30","t":240,"v":0.6},{"k":"e30","t":246,"v":0},{"k":"e30","t":252,"v":0},{"k":"e30","t":258,"v":0},{"k":"e30","t":264,"v":0},{"k":"e30","t":270,"v":0},{"k":"e30","t":276,"v":0},{"k":"e30","t":282,"v":0},{"k":"e30","t":288,"v":0},{"k":"e30","t":294,"v":0},{"k":"e30","t":300,"v":0},{"k":"e30","t":306,"v":0},{"k":"e30","t":312,"v":0},{"k":"e30","t":318,"v":0},{"k":"e30","t":324,"v":0.5},{"k":"e30","t":330,"v":1.5},{"k":"e30","t":336,"v":3.8},{"k":"e30","t":342,"v":2.0},{"k":"e30","t":348,"v":0.6},
{"k":"mediaan (middelste waarde)","t":-6,"v":0},{"k":"mediaan (middelste waarde)","t":0,"v":0},{"k":"mediaan (middelste waarde)","t":6,"v":0},{"k":"mediaan (middelste waarde)","t":12,"v":0},{"k":"mediaan (middelste waarde)","t":18,"v":0},{"k":"mediaan (middelste waarde)","t":24,"v":0},{"k":"mediaan (middelste waarde)","t":30,"v":0},{"k":"mediaan (middelste waarde)","t":36,"v":0},{"k":"mediaan (middelste waarde)","t":42,"v":0},{"k":"mediaan (middelste waarde)","t":48,"v":0},{"k":"mediaan (middelste waarde)","t":54,"v":0},{"k":"mediaan (middelste waarde)","t":60,"v":0},{"k":"mediaan (middelste waarde)","t":66,"v":0},{"k":"mediaan (middelste waarde)","t":72,"v":0},{"k":"mediaan (middelste waarde)","t":78,"v":0},{"k":"mediaan (middelste waarde)","t":84,"v":0},{"k":"mediaan (middelste waarde)","t":90,"v":0},{"k":"mediaan (middelste waarde)","t":96,"v":0.1},{"k":"mediaan (middelste waarde)","t":102,"v":1.2},{"k":"mediaan (middelste waarde)","t":108,"v":1.3},{"k":"mediaan (middelste waarde)","t":114,"v":1.2},{"k":"mediaan (middelste waarde)","t":120,"v":2.05},{"k":"mediaan (middelste waarde)","t":126,"v":1.7},{"k":"mediaan (middelste waarde)","t":132,"v":1.3},{"k":"mediaan (middelste waarde)","t":138,"v":0.9},{"k":"mediaan (middelste waarde)","t":144,"v":0.6},{"k":"mediaan (middelste waarde)","t":150,"v":0.42},{"k":"mediaan (middelste waarde)","t":156,"v":0.3},{"k":"mediaan (middelste waarde)","t":162,"v":0.2},{"k":"mediaan (middelste waarde)","t":168,"v":0.08},{"k":"mediaan (middelste waarde)","t":174,"v":0.3},{"k":"mediaan (middelste waarde)","t":180,"v":0.65},{"k":"mediaan (middelste waarde)","t":186,"v":0.93},{"k":"mediaan (middelste waarde)","t":192,"v":1.0},{"k":"mediaan (middelste waarde)","t":198,"v":0.88},{"k":"mediaan (middelste waarde)","t":204,"v":0.9},{"k":"mediaan (middelste waarde)","t":210,"v":0.85},{"k":"mediaan (middelste waarde)","t":216,"v":0.65},{"k":"mediaan (middelste waarde)","t":222,"v":0.54},{"k":"mediaan (middelste waarde)","t":228,"v":0.6},{"k":"mediaan (middelste waarde)","t":234,"v":0.75},{"k":"mediaan (middelste waarde)","t":240,"v":0.2},{"k":"mediaan (middelste waarde)","t":246,"v":0.1},{"k":"mediaan (middelste waarde)","t":252,"v":0.08},{"k":"mediaan (middelste waarde)","t":258,"v":0.08},{"k":"mediaan (middelste waarde)","t":264,"v":0.05},{"k":"mediaan (middelste waarde)","t":270,"v":0.05},{"k":"mediaan (middelste waarde)","t":276,"v":0.05},{"k":"mediaan (middelste waarde)","t":282,"v":0.08},{"k":"mediaan (middelste waarde)","t":288,"v":0.05},{"k":"mediaan (middelste waarde)","t":294,"v":0.08},{"k":"mediaan (middelste waarde)","t":300,"v":0.15},{"k":"mediaan (middelste waarde)","t":306,"v":0.1},{"k":"mediaan (middelste waarde)","t":312,"v":0.05},{"k":"mediaan (middelste waarde)","t":318,"v":0.05},{"k":"mediaan (middelste waarde)","t":324,"v":0.05},{"k":"mediaan (middelste waarde)","t":330,"v":0.05},{"k":"mediaan (middelste waarde)","t":336,"v":0.05},{"k":"mediaan (middelste waarde)","t":342,"v":0.05},{"k":"mediaan (middelste waarde)","t":348,"v":0.05},
{"k":"gemiddelde","t":-6,"v":0.08},{"k":"gemiddelde","t":0,"v":0.05},{"k":"gemiddelde","t":6,"v":0.03},{"k":"gemiddelde","t":12,"v":0.05},{"k":"gemiddelde","t":18,"v":0.05},{"k":"gemiddelde","t":24,"v":0.03},{"k":"gemiddelde","t":30,"v":0.02},{"k":"gemiddelde","t":36,"v":0.03},{"k":"gemiddelde","t":42,"v":0.03},{"k":"gemiddelde","t":48,"v":0.03},{"k":"gemiddelde","t":54,"v":0.05},{"k":"gemiddelde","t":60,"v":0.05},{"k":"gemiddelde","t":66,"v":0.03},{"k":"gemiddelde","t":72,"v":0.02},{"k":"gemiddelde","t":78,"v":0.02},{"k":"gemiddelde","t":84,"v":0.03},{"k":"gemiddelde","t":90,"v":0.1},{"k":"gemiddelde","t":96,"v":0.35},{"k":"gemiddelde","t":102,"v":1.5},{"k":"gemiddelde","t":108,"v":2.2},{"k":"gemiddelde","t":114,"v":2.85},{"k":"gemiddelde","t":120,"v":3.3},{"k":"gemiddelde","t":126,"v":2.7},{"k":"gemiddelde","t":132,"v":1.9},{"k":"gemiddelde","t":138,"v":1.47},{"k":"gemiddelde","t":144,"v":1.35},{"k":"gemiddelde","t":150,"v":1.35},{"k":"gemiddelde","t":156,"v":1.2},{"k":"gemiddelde","t":162,"v":0.55},{"k":"gemiddelde","t":168,"v":0.88},{"k":"gemiddelde","t":174,"v":1.23},{"k":"gemiddelde","t":180,"v":1.7},{"k":"gemiddelde","t":186,"v":2.6},{"k":"gemiddelde","t":192,"v":2.16},{"k":"gemiddelde","t":198,"v":2.3},{"k":"gemiddelde","t":204,"v":2.27},{"k":"gemiddelde","t":210,"v":2.09},{"k":"gemiddelde","t":216,"v":1.8},{"k":"gemiddelde","t":222,"v":1.47},{"k":"gemiddelde","t":228,"v":1.58},{"k":"gemiddelde","t":234,"v":1.77},{"k":"gemiddelde","t":240,"v":1.23},{"k":"gemiddelde","t":246,"v":0.84},{"k":"gemiddelde","t":252,"v":0.58},{"k":"gemiddelde","t":258,"v":0.81},{"k":"gemiddelde","t":264,"v":0.47},{"k":"gemiddelde","t":270,"v":0.58},{"k":"gemiddelde","t":276,"v":0.65},{"k":"gemiddelde","t":282,"v":0.77},{"k":"gemiddelde","t":288,"v":0.72},{"k":"gemiddelde","t":294,"v":0.72},{"k":"gemiddelde","t":300,"v":0.77},{"k":"gemiddelde","t":306,"v":1.05},{"k":"gemiddelde","t":312,"v":0.81},{"k":"gemiddelde","t":318,"v":0.54},{"k":"gemiddelde","t":324,"v":0.65},{"k":"gemiddelde","t":330,"v":0.7},{"k":"gemiddelde","t":336,"v":0.84},{"k":"gemiddelde","t":342,"v":0.72},{"k":"gemiddelde","t":348,"v":0.58},
{"k":"Controle","t":-6,"v":0.05},{"k":"Controle","t":0,"v":0.05},{"k":"Controle","t":6,"v":0.08},{"k":"Controle","t":12,"v":0.1},{"k":"Controle","t":18,"v":0.08},{"k":"Controle","t":24,"v":0.05},{"k":"Controle","t":30,"v":0.03},{"k":"Controle","t":36,"v":0.05},{"k":"Controle","t":42,"v":0.08},{"k":"Controle","t":48,"v":0.05},{"k":"Controle","t":54,"v":0.03},{"k":"Controle","t":60,"v":0.05},{"k":"Controle","t":66,"v":0.08},{"k":"Controle","t":72,"v":0.05},{"k":"Controle","t":78,"v":0.03},{"k":"Controle","t":84,"v":0.02},{"k":"Controle","t":90,"v":0.05},{"k":"Controle","t":96,"v":0.3},{"k":"Controle","t":102,"v":1.47},{"k":"Controle","t":108,"v":0.88},{"k":"Controle","t":114,"v":0.08},{"k":"Controle","t":120,"v":0.95},{"k":"Controle","t":126,"v":0.24},{"k":"Controle","t":132,"v":2.16},{"k":"Controle","t":138,"v":0.3},{"k":"Controle","t":144,"v":0.88},{"k":"Controle","t":150,"v":1.07},{"k":"Controle","t":156,"v":1.23},{"k":"Controle","t":162,"v":0.6},{"k":"Controle","t":168,"v":0},{"k":"Controle","t":174,"v":0.3},{"k":"Controle","t":180,"v":0.08},{"k":"Controle","t":186,"v":0.65},{"k":"Controle","t":192,"v":1.47},{"k":"Controle","t":198,"v":0.6},{"k":"Controle","t":204,"v":2.04},{"k":"Controle","t":210,"v":2.9},{"k":"Controle","t":216,"v":0.65},{"k":"Controle","t":222,"v":0.08},{"k":"Controle","t":228,"v":0.02},{"k":"Controle","t":234,"v":0},{"k":"Controle","t":240,"v":0},{"k":"Controle","t":246,"v":0},{"k":"Controle","t":252,"v":0},{"k":"Controle","t":258,"v":0},{"k":"Controle","t":264,"v":0},{"k":"Controle","t":270,"v":0.54},{"k":"Controle","t":276,"v":0.77},{"k":"Controle","t":282,"v":0.84},{"k":"Controle","t":288,"v":0.19},{"k":"Controle","t":294,"v":0.19},{"k":"Controle","t":300,"v":0.49},{"k":"Controle","t":306,"v":2.44},{"k":"Controle","t":312,"v":1.7},{"k":"Controle","t":318,"v":0.3},{"k":"Controle","t":324,"v":0},{"k":"Controle","t":330,"v":0},{"k":"Controle","t":336,"v":0},{"k":"Controle","t":342,"v":0.54},{"k":"Controle","t":348,"v":2.2},
{"k":"Oper.","t":-6,"v":0.05},{"k":"Oper.","t":0,"v":0.02},{"k":"Oper.","t":6,"v":0},{"k":"Oper.","t":12,"v":0.03},{"k":"Oper.","t":18,"v":0.05},{"k":"Oper.","t":24,"v":0.03},{"k":"Oper.","t":30,"v":0},{"k":"Oper.","t":36,"v":0},{"k":"Oper.","t":42,"v":0.05},{"k":"Oper.","t":48,"v":0.03},{"k":"Oper.","t":54,"v":0},{"k":"Oper.","t":60,"v":0},{"k":"Oper.","t":66,"v":0.02},{"k":"Oper.","t":72,"v":0.05},{"k":"Oper.","t":78,"v":0.02},{"k":"Oper.","t":84,"v":0.05},{"k":"Oper.","t":90,"v":0.05},{"k":"Oper.","t":96,"v":0.1},{"k":"Oper.","t":102,"v":1.35},{"k":"Oper.","t":108,"v":1.23},{"k":"Oper.","t":114,"v":0.54},{"k":"Oper.","t":120,"v":2.27},{"k":"Oper.","t":126,"v":8.35},{"k":"Oper.","t":132,"v":2.97},{"k":"Oper.","t":138,"v":1.0},{"k":"Oper.","t":144,"v":0.95},{"k":"Oper.","t":150,"v":6.68},{"k":"Oper.","t":156,"v":1.7},{"k":"Oper.","t":162,"v":0.54},{"k":"Oper.","t":168,"v":0},{"k":"Oper.","t":174,"v":0.88},{"k":"Oper.","t":180,"v":1.7},{"k":"Oper.","t":186,"v":3.3},{"k":"Oper.","t":192,"v":1.35},{"k":"Oper.","t":198,"v":3.1},{"k":"Oper.","t":204,"v":0.54},{"k":"Oper.","t":210,"v":0},{"k":"Oper.","t":216,"v":0.77},{"k":"Oper.","t":222,"v":1.77},{"k":"Oper.","t":228,"v":0.08}
]},
"encoding": {
  "x": {"field": "t", "type": "quantitative", "scale": {"domain": [-6.25, 348], "nice": false, "zero": false},
        "axis": {"orient": "bottom", "title": null, "values": [-6,0,6,12,18,24,30,36,42,48,54,60,66,72,78,84,90,96,102,108,114,120,126,132,138,144,150,156,162,168,174,180,186,192,198,204,210,216,222,228,234,240,246,252,258,264,270,276,282,288,294,300,306,312,318,324,330,336,342,348],
                 "grid": true, "gridColor": {"condition": {"test": "datum.value % 24 === 0", "value": "#606060"}, "value": "#dcdcdc"}, "gridWidth": 1,
                 "tickSize": 4, "tickColor": "#000000", "domainColor": "#000000",
                 "labelExpr": "datum.value % 24 === 12 ? ['Do 23','Vr 24','Za 25','Zo 26','Ma 27','Di 28','Wo 29','Do 30','Vr 31','Za 1','Zo 2','Ma 3','Di 4','Wo 5'][(datum.value - 12) / 24] : ''",
                 "labelFont": "Liberation Sans", "labelFontSize": 11, "labelColor": "#000000", "labelPadding": 4, "labelOverlap": false, "labelFlush": false}},
  "y": {"field": "v", "type": "quantitative", "scale": {"domain": [0, 18], "nice": false},
        "axis": {"title": null, "values": [0,2,4,6,8,10,12,14,16,18], "grid": true, "gridColor": "#dcdcdc", "tickSize": 5, "tickColor": "#000000", "domainColor": "#000000", "labelFont": "Liberation Sans", "labelFontSize": 11, "labelColor": "#000000", "labelPadding": 5}},
  "color": {"field": "k", "type": "nominal",
            "scale": {"domain": ["Oper.", "Controle", "Leden", "gemiddelde", "mediaan (middelste waarde)"], "range": ["#d33434", "#3434cc", "#3f9c22", "#1e1e1e", "#cc00ee"]},
            "legend": {"title": null, "orient": "none", "legendX": -2, "legendY": -14, "direction": "horizontal", "symbolType": "stroke", "symbolSize": 256, "symbolStrokeWidth": 0, "labelFont": "Liberation Sans", "labelFontSize": 10.5, "labelColor": "#000000", "labelOffset": 4, "columnPadding": 25,
                       "encode": {"symbols": {"update": {"strokeWidth": {"signal": "datum.value === 'Leden' ? 1.3 : (datum.value === 'mediaan (middelste waarde)' ? 3 : 3.5)"}, "strokeDash": {"signal": "datum.value === 'gemiddelde' ? [3,2] : (datum.value === 'mediaan (middelste waarde)' ? [12,2.5] : [1,0])"}, "opacity": {"signal": "datum.value === 'Leden' ? 0.35 : 1"}}}}}}
},
"layer": [
  {"transform": [{"filter": "length(datum.k) < 4"}], "mark": {"type": "line", "strokeWidth": 1, "opacity": 0.5}, "encoding": {"detail": {"field": "k"}, "color": {"value": "#3f9c22"}}},
  {"transform": [{"filter": "datum.k === 'mediaan (middelste waarde)'"}], "mark": {"type": "line", "strokeWidth": 2.5, "strokeDash": [12, 2.5]}},
  {"transform": [{"filter": "datum.k === 'gemiddelde'"}], "mark": {"type": "line", "strokeWidth": 3, "strokeDash": [3, 2]}},
  {"transform": [{"filter": "datum.k === 'Controle'"}], "mark": {"type": "line", "strokeWidth": 3.5}},
  {"transform": [{"filter": "datum.k === 'Oper.'"}], "mark": {"type": "line", "strokeWidth": 3.5},
   "encoding": {"x": {"field": "t", "type": "quantitative", "axis": {"orient": "top", "title": null, "labels": false, "grid": false, "values": [-6,0,6,12,18,24,30,36,42,48,54,60,66,72,78,84,90,96,102,108,114,120,126,132,138,144,150,156,162,168,174,180,186,192,198,204,210,216,222,228,234,240,246,252,258,264,270,276,282,288,294,300,306,312,318,324,330,336,342,348], "tickSize": -8, "tickColor": "#000000", "domainColor": "#000000"}}}}
]
}
